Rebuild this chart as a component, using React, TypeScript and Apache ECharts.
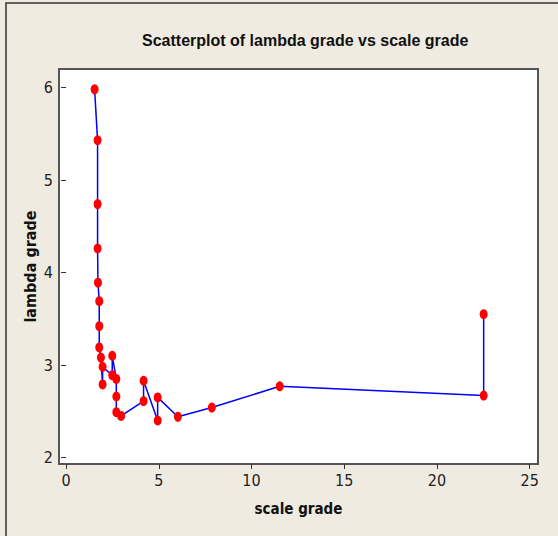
import React, { useEffect, useRef } from "react";
import * as echarts from "echarts";

const scaleGrade = [1.54, 1.70, 1.70, 1.70, 1.72, 1.79, 1.79, 1.79, 1.88, 1.97, 1.97, 2.49, 2.49, 2.71, 2.71, 2.71, 2.97, 4.18, 4.18, 4.94, 4.94, 6.03, 7.86, 11.52, 22.52, 22.52];
const lambdaGrade = [5.98, 5.43, 4.74, 4.26, 3.89, 3.69, 3.42, 3.19, 3.08, 2.79, 2.98, 2.89, 3.10, 2.85, 2.66, 2.49, 2.45, 2.61, 2.83, 2.40, 2.65, 2.44, 2.54, 2.77, 2.67, 3.55];
const xTicks = [0, 5, 10, 15, 20, 25];
const yTicks = [2, 3, 4, 5, 6];
const title = "Scatterplot of lambda grade vs scale grade";
const xName = "scale grade";
const yName = "lambda grade";

export default function App() {
  const ref = useRef<HTMLDivElement>(null);
  useEffect(() => {
    if (!ref.current) return;
    const chart = echarts.init(ref.current, undefined, { renderer: "svg" });
    const data = scaleGrade.map((x, i) => [x, lambdaGrade[i]]);
    const tickFont = "'Liberation Sans Narrow', 'DejaVu Sans Condensed', sans-serif";
    chart.setOption({
      animation: false,
      backgroundColor: "#EFEBE1",
      title: {
        text: title,
        left: 137,
        top: 27,
        textStyle: { fontFamily: "'Liberation Sans', Arial, sans-serif", fontSize: 16, fontWeight: "bold", color: "#111" },
      },
      graphic: [
        {
          type: "rect",
          shape: { x: 6, y: 3, width: 600, height: 600 },
          style: { fill: "none", stroke: "#333", lineWidth: 1.5 },
        },
      ],
      grid: {
        left: 59,
        top: 69,
        right: 20,
        bottom: 72,
        show: true,
        backgroundColor: "#ffffff",
        borderColor: "#555",
        borderWidth: 2,
      },
      xAxis: {
        type: "value",
        min: -0.38,
        max: 25.45,
        name: xName,
        nameLocation: "middle",
        nameGap: 37,
        nameTextStyle: { fontFamily: tickFont, fontSize: 15, fontWeight: "bold", color: "#111" },
        axisLine: { show: false },
        splitLine: { show: false },
        axisTick: { show: true, customValues: xTicks, length: 5, lineStyle: { color: "#333", width: 1 } },
        axisLabel: { customValues: xTicks, fontFamily: tickFont, fontSize: 16, color: "#222", margin: 8 },
      },
      yAxis: {
        type: "value",
        min: 1.93,
        max: 6.2,
        name: yName,
        nameLocation: "middle",
        nameGap: 21,
        nameMoveOverlap: false,
        nameRotate: 90,
        nameTextStyle: { fontFamily: tickFont, fontSize: 16, fontWeight: "bold", color: "#111", letterSpacing: 1 },
        axisLine: { show: false },
        splitLine: { show: false },
        axisTick: { show: true, customValues: yTicks, length: 5, lineStyle: { color: "#333", width: 1 } },
        axisLabel: { customValues: yTicks, fontFamily: tickFont, fontSize: 16, color: "#222", margin: 6 },
      },
      series: [
        {
          type: "line",
          data,
          symbol: "circle",
          symbolSize: [8, 10],
          lineStyle: { color: "#0000ff", width: 1.5 },
          itemStyle: { color: "#ff0000" },
        },
      ],
    });
    return () => chart.dispose();
  }, []);
  return <div ref={ref} style={{ width: 558, height: 536, position: "absolute", left: 0, top: 0 }} />;
}
